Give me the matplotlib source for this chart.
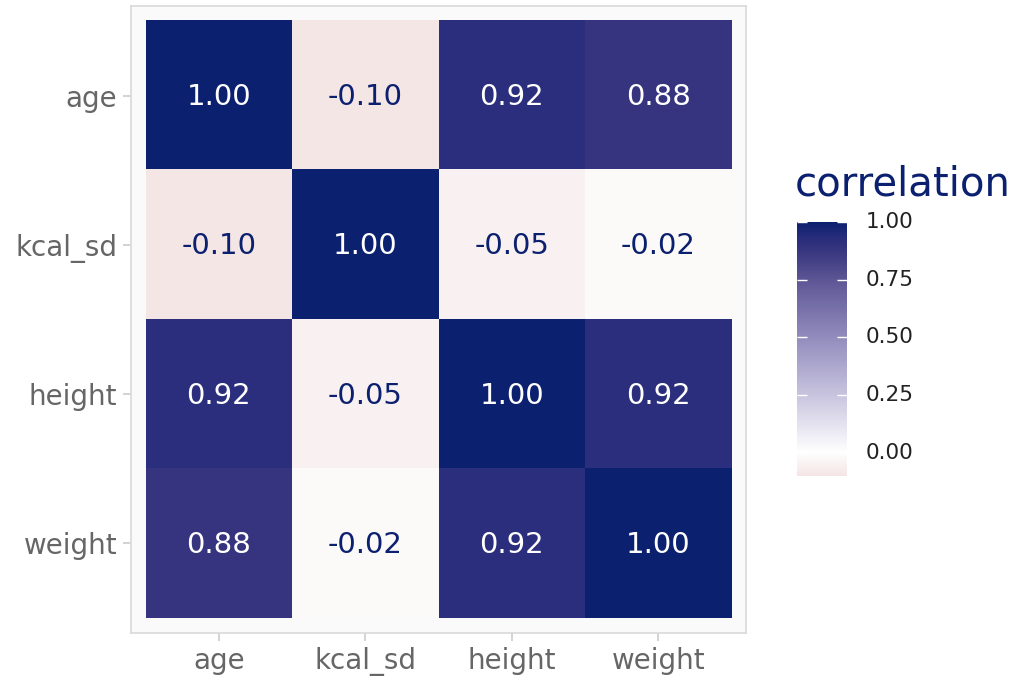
import numpy as np
import matplotlib
matplotlib.use("Agg")
import matplotlib.pyplot as plt
from matplotlib.colors import LinearSegmentedColormap, Normalize

plt.rcParams['font.family'] = ['DejaVu Sans']

variables = ["age", "kcal_sd", "height", "weight"]
corr = np.array([
    [1.00, -0.10, 0.92, 0.88],
    [-0.10, 1.00, -0.05, -0.02],
    [0.92, -0.05, 1.00, 0.92],
    [0.88, -0.02, 0.92, 1.00],
])
bar_ticks = [0.00, 0.25, 0.50, 0.75, 1.00]

navy = "#0c2070"
vmin, vmax = -0.10, 1.00
stops = [(-0.10, "#f5e6e6"), (0.00, "#ffffff"), (0.25, "#c8c4df"),
         (0.50, "#928cbd"), (0.75, "#5d5695"), (0.88, "#37357f"),
         (0.92, "#2c2f7d"), (1.00, navy)]
cmap = LinearSegmentedColormap.from_list(
    "corr", [((v - vmin) / (vmax - vmin), c) for v, c in stops])
norm = Normalize(vmin, vmax)

fig = plt.figure(figsize=(10.21, 6.76), dpi=100)
ax = fig.add_axes([131/1021, 1 - 633/676, 615/1021, 627/676])
ax.set_facecolor("#fafafa")

n = len(variables)
ax.imshow(corr, cmap=cmap, norm=norm, extent=(-0.5, n - 0.5, n - 0.5, -0.5),
          interpolation="nearest", aspect="auto", zorder=2)
ax.set_xlim(-0.6, n - 0.4)
ax.set_ylim(n - 0.4, -0.6)

for i in range(n):
    for j in range(n):
        v = corr[i, j]
        ax.text(j, i + 0.01, f"{v:.2f}", ha="center", va="center", fontsize=21,
                color="white" if v > 0.5 else navy, zorder=3)

ax.set_xticks(range(n))
ax.set_xticklabels(variables)
ax.set_yticks(range(n))
ax.set_yticklabels(variables)
ax.tick_params(axis="both", length=6, width=1.2, color="#cccccc",
               labelcolor="#666666", labelsize=20, pad=4)
for s in ax.spines.values():
    s.set_color("#d9d9d9")
    s.set_linewidth(1.2)

# colour bar
cax = fig.add_axes([797/1021, 1 - 476/676, 50/1021, 254/676])
grad = np.linspace(vmin, vmax, 300).reshape(-1, 1)
cax.imshow(grad, cmap=cmap, norm=norm, extent=(0, 1, vmin, vmax),
           origin="lower", aspect="auto")
cax.set_xlim(0, 1)
cax.set_ylim(vmin, vmax)
cax.set_xticks([])
cax.set_yticks([])
for s in cax.spines.values():
    s.set_visible(False)
for t in bar_ticks:
    cax.plot([0, 0.2], [t, t], color="white", lw=1, solid_capstyle="butt")
    cax.plot([0.8, 1], [t, t], color="white", lw=1, solid_capstyle="butt")
    cax.text(1.38, t, f"{t:.2f}", ha="left", va="center", fontsize=15.5,
             color="#222222", transform=cax.transData, clip_on=False)

fig.text(795/1021, 1 - 184/676, "correlation", ha="left", va="center",
         fontsize=29, color=navy)

fig.savefig("out.png", dpi=100, facecolor="white")
